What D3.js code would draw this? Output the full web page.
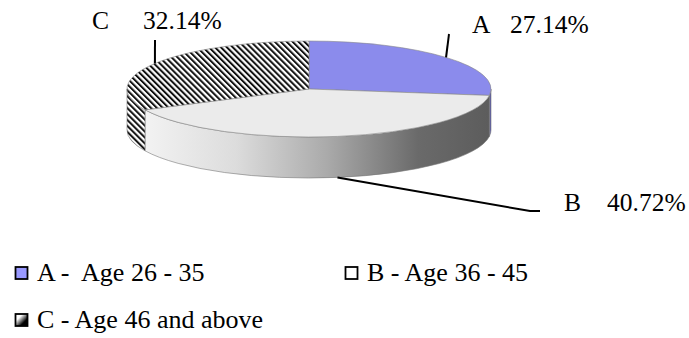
<!DOCTYPE html>
<html>
<head>
<meta charset="utf-8">
<script src="https://cdn.jsdelivr.net/npm/d3@7"></script>
</head>
<body style="margin:0;background:#fff">
<svg id="chart" width="689" height="338" style="display:block"></svg>
<script>
// Age groups and their shares (%)
const categories = ["A", "B", "C"];
const values = [27.14, 40.72, 32.14];
const legendLabels = ["A -\u00a0 Age 26 - 35", "B - Age 36 - 45", "C - Age 46 and above"];

const W = 689, H = 338;
const FONT = "Liberation Serif";
const svg = d3.select("#chart");

// 3D pie geometry
const cx = 309, cy = 89, rx = 182, ry = 48, depth = 41;

const pie = d3.pie().sort(null).value(d => d).startAngle(0).endAngle(2 * Math.PI);
const arcs = pie(values);

const pt = (a, dy = 0) => [cx + rx * Math.sin(a), cy - ry * Math.cos(a) + dy];

const defs = svg.append("defs");

// hatch for group C
const hatch = defs.append("pattern")
  .attr("id", "hatchC").attr("patternUnits", "userSpaceOnUse")
  .attr("width", 4.2).attr("height", 10)
  .attr("patternTransform", "rotate(-45)");
hatch.append("rect").attr("width", 4.2).attr("height", 10).attr("fill", "#fff");
hatch.append("rect").attr("x", 0).attr("width", 2).attr("height", 10).attr("fill", "#111");

// side shading for group B
const gB = defs.append("linearGradient").attr("id", "sideB")
  .attr("gradientUnits", "userSpaceOnUse")
  .attr("x1", cx - rx).attr("y1", 0).attr("x2", cx + rx).attr("y2", 0);
gB.append("stop").attr("offset", "0").attr("stop-color", "#f7f7f7");
gB.append("stop").attr("offset", "0.3").attr("stop-color", "#dcdcdc");
gB.append("stop").attr("offset", "0.55").attr("stop-color", "#aaaaaa");
gB.append("stop").attr("offset", "0.8").attr("stop-color", "#6a6a6a");
gB.append("stop").attr("offset", "1").attr("stop-color", "#5c5c5c");

// legend swatch for group C
const gC = defs.append("linearGradient").attr("id", "swC")
  .attr("x1", "0").attr("y1", "0").attr("x2", "1").attr("y2", "1");
gC.append("stop").attr("offset", "0.3").attr("stop-color", "#fff");
gC.append("stop").attr("offset", "0.7").attr("stop-color", "#000");

const topFill = ["#8b8bec", "#ebebeb", "url(#hatchC)"];
const sideFill = ["#5a5aa8", "url(#sideB)", "url(#hatchC)"];
const swatchFill = ["#9999ff", "#ffffff", "url(#swC)"];

// front walls (visible between 90° and 270°)
const sideG = svg.append("g");
arcs.forEach((d, i) => {
  const s = Math.max(d.startAngle, Math.PI / 2);
  const e = Math.min(d.endAngle, 3 * Math.PI / 2);
  if (e <= s) return;
  const p0 = pt(s), p1 = pt(e), q1 = pt(e, depth), q0 = pt(s, depth);
  const path = `M${p0}A${rx},${ry} 0 0 1 ${p1}L${q1}A${rx},${ry} 0 0 0 ${q0}Z`;
  sideG.append("path").attr("d", path)
    .attr("fill", sideFill[i]).attr("stroke", "#777").attr("stroke-width", 0.6);
});

// top faces
const topG = svg.append("g");
arcs.forEach((d, i) => {
  const p0 = pt(d.startAngle), p1 = pt(d.endAngle);
  const large = d.endAngle - d.startAngle > Math.PI ? 1 : 0;
  const path = `M${cx},${cy}L${p0}A${rx},${ry} 0 ${large} 1 ${p1}Z`;
  topG.append("path").attr("d", path)
    .attr("fill", topFill[i]).attr("stroke", "#888").attr("stroke-width", 0.6);
});

function addText(sel, x, y, str, size) {
  return sel.append("text")
    .attr("x", x).attr("y", y)
    .attr("font-family", FONT).attr("font-size", size)
    .attr("fill", "#000")
    .text(str);
}

// data labels with leader lines
const fmt = v => d3.format(".2f")(v) + "%";
const labelPos = [
  { lx: 472, px: 510, y: 33, end: [[449, 34]] },
  { lx: 564, px: 607, y: 211, end: [[530, 211], [540, 211]] },
  { lx: 92, px: 143, y: 29, end: [[155, 40]] }
];
const labG = svg.append("g");
arcs.forEach((d, i) => {
  const mid = (d.startAngle + d.endAngle) / 2;
  const front = Math.cos(mid) < 0;
  const start = pt(mid, front ? depth : 0);
  const line = d3.line()([start, ...labelPos[i].end]);
  labG.append("path").attr("d", line).attr("fill", "none")
    .attr("stroke", "#000").attr("stroke-width", 2);
  addText(labG, labelPos[i].lx, labelPos[i].y, categories[i], 25.5);
  addText(labG, labelPos[i].px, labelPos[i].y, fmt(values[i]), 25.5);
});

// legend
const legPos = [
  { x: 15, y: 281 },
  { x: 345, y: 281 },
  { x: 15, y: 328 }
];
const legG = svg.append("g");
categories.forEach((c, i) => {
  const g = legG.append("g").attr("transform", `translate(${legPos[i].x},${legPos[i].y})`);
  g.append("rect").attr("x", 0.5).attr("y", -14).attr("width", 12).attr("height", 12)
    .attr("fill", swatchFill[i]).attr("stroke", "#000").attr("stroke-width", 1.8);
  addText(g, 22, 0, legendLabels[i], 26);
});
</script>
</body>
</html>
